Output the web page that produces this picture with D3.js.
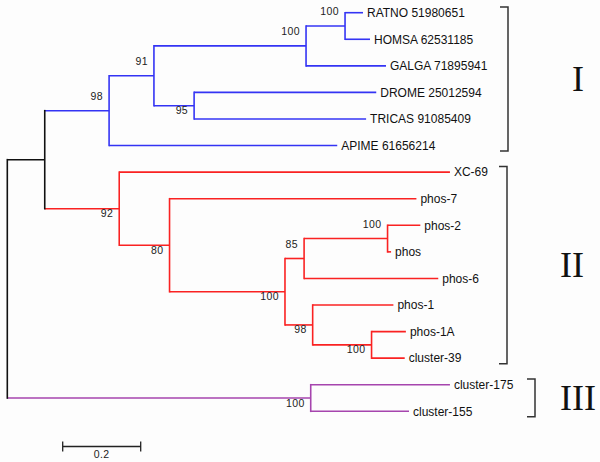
<!DOCTYPE html>
<html>
<head>
<meta charset="utf-8">
<script src="https://cdn.jsdelivr.net/npm/d3@7"></script>
<style>
  html, body { margin: 0; padding: 0; background: #fdfdfd; }
  svg { display: block; }
</style>
</head>
<body>
<svg id="chart" width="600" height="462"></svg>
<script>
// ---- data ----
const nodeNames = ["root","A","B","C","D","E","RATNO 51980651","HOMSA 62531185","GALGA 71895941","F","DROME 25012594","TRICAS 91085409","APIME 61656214","G","XC-69","H","phos-7","I","J","K","phos-2","phos","phos-6","L","phos-1","M","phos-1A","cluster-39","N","cluster-175","cluster-155"];
const parentNames = ["","root","A","B","C","D","E","E","D","C","F","F","B","A","G","G","H","H","I","J","K","K","J","I","L","L","M","M","root","N","N"];
const branchLengths = [0,0.096,0.165,0.115,0.390,0.100,0.046,0.064,0.205,0.103,0.467,0.441,0.585,0.191,0.848,0.129,0.633,0.296,0.049,0.214,0.084,0.009,0.344,0.071,0.207,0.151,0.088,0.085,0.778,0.357,0.252];
const bootstrapValues = [null,null,98,91,100,100,null,null,null,95,null,null,null,92,null,80,null,100,85,100,null,null,null,98,null,100,null,null,100,null,null];
const bootstrapAbove = ["B","C","D","E","J","K"];
const cladeRoots = ["B","G","N"];
const cladeColors = ["#3434f4","#fa2222","#a645ae"];
const cladeLabels = ["I","II","III"];
const cladeFirstLeaf = ["RATNO 51980651","XC-69","cluster-175"];
const cladeLastLeaf = ["APIME 61656214","cluster-39","cluster-155"];
const scaleBarValue = 0.2;

// ---- build tree ----
const table = nodeNames.map((n,i)=>({id:n, parent:parentNames[i]||null, len:branchLengths[i], bs:bootstrapValues[i]}));
const root = d3.stratify().id(d=>d.id).parentId(d=>d.parent)(table);
root.each(d => { d.dist = d.parent ? d.parent.dist + d.data.len : 0; });
root.each(d => {
  let c = "#111";
  let a = d;
  while (a) { const k = cladeRoots.indexOf(a.id); if (k >= 0) { c = cladeColors[k]; break; } a = a.parent; }
  d.color = c;
});

const leaves = root.leaves();
const x = d3.scaleLinear().domain([0,1]).range([7.3, 397.3]);
const y = d3.scalePoint().domain(leaves.map(d=>d.id)).range([12.7, 411.3]);
root.eachAfter(d => {
  if (!d.children) d.y = y(d.id);
  else d.y = (d.children[0].y + d.children[d.children.length-1].y)/2;
  d.x = x(d.dist);
});

const svg = d3.select("#chart");
const g = svg.append("g");

// horizontal branches
g.selectAll("line.h").data(root.descendants().filter(d=>d.parent)).join("line")
  .attr("x1", d=>d.parent.x).attr("x2", d=>d.x)
  .attr("y1", d=>d.y).attr("y2", d=>d.y)
  .attr("stroke", d=>d.color).attr("stroke-width", 1.6);
// vertical connectors
g.selectAll("line.v").data(root.descendants().filter(d=>d.children)).join("line")
  .attr("x1", d=>d.x).attr("x2", d=>d.x)
  .attr("y1", d=>d.children[0].y - 0.8).attr("y2", d=>d.children[d.children.length-1].y + 0.8)
  .attr("stroke", d=>d.color).attr("stroke-width", 1.6);

// leaf labels
g.selectAll("text.leaf").data(leaves).join("text")
  .attr("x", d=>d.x + 4).attr("y", d=>d.y).attr("dy","0.36em")
  .attr("font-family","Liberation Sans, Arial, sans-serif").attr("font-size", 12)
  .attr("fill","#111").text(d=>d.id);

// bootstrap labels
g.selectAll("text.bs").data(root.descendants().filter(d=>d.data.bs != null)).join("text")
  .attr("x", d=>d.x - 6).attr("y", d=> bootstrapAbove.includes(d.id) ? d.y - 10.5 : d.y + 8.5)
  .attr("text-anchor","end")
  .attr("font-family","Liberation Sans, Arial, sans-serif").attr("font-size", 10.5)
  .attr("letter-spacing", 0.4)
  .attr("fill","#222").text(d=>d.data.bs);

// clade brackets
const bracketX = [508, 507, 535];
cladeLabels.forEach((lab,i) => {
  const y0 = y(cladeFirstLeaf[i]) - 5.7, y1 = y(cladeLastLeaf[i]) + 5.5;
  const bx = bracketX[i];
  g.append("path")
    .attr("d", `M${bx-8},${y0}H${bx}V${y1}H${bx-8}`)
    .attr("fill","none").attr("stroke","#333").attr("stroke-width",1.5);
  g.append("text")
    .attr("x", bx + 70 - (i===1?5:0) - (i===2?27:0)).attr("y", (y0+y1)/2).attr("dy","0.34em")
    .attr("text-anchor","middle")
    .attr("font-family","Liberation Serif, Times New Roman, serif").attr("font-size", 36)
    .attr("fill","#111").text(lab);
});

// scale bar
const sbX0 = 62.7, sbY = 446.5;
const sbX1 = sbX0 + (x(scaleBarValue) - x(0));
g.append("path")
  .attr("d", `M${sbX0},${sbY}H${sbX1}M${sbX0},${sbY-5}V${sbY+5}M${sbX1},${sbY-5}V${sbY+5}`)
  .attr("stroke","#222").attr("stroke-width",1.3).attr("fill","none");
g.append("text").attr("x",(sbX0+sbX1)/2).attr("y", 457.5).attr("text-anchor","middle")
  .attr("font-family","Liberation Sans, Arial, sans-serif").attr("font-size",10.5)
  .attr("letter-spacing",0.4)
  .attr("fill","#222").text(scaleBarValue);
</script>
</body>
</html>
